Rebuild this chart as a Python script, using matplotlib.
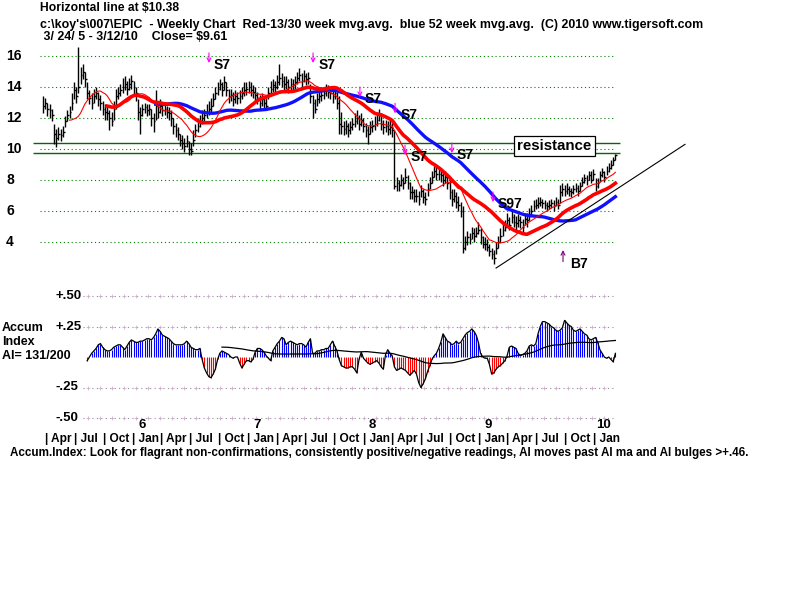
import matplotlib
matplotlib.use('Agg')
import matplotlib.pyplot as plt
import numpy as np
import pandas as pd

plt.rcParams['font.family'] = ['Liberation Sans', 'DejaVu Sans']
plt.rcParams['font.weight'] = 'bold'

# Weekly bars, one per week starting 3/25/05, last one 3/12/10.
start_date = pd.Timestamp('2005-03-25')

closes = [
    12.8, 13.0, 12.6, 12.5, 12.2, 11.0, 10.7, 11.0, 10.9, 11.1,
    11.8, 12.2, 12.4, 13.0, 13.8, 13.4, 14.0, 14.8, 15.0, 14.5, 13.6, 13.3,
    13.0, 13.4, 13.6, 13.2, 13.0, 12.6, 12.4, 12.3, 12.0, 11.8,
    12.6, 13.4, 13.6, 13.8, 14.0, 14.2, 13.9, 14.2, 14.4, 14.0, 13.6,
    12.4, 12.2, 12.6, 12.7, 12.5, 12.6, 12.0, 11.8, 12.8, 12.4,
    12.8, 12.5, 12.6, 12.4, 12.3, 12.0, 11.5, 11.2, 11.0,
    10.6, 10.4, 10.2, 10.5, 10.0, 9.9, 10.6, 11.2, 11.5, 11.8, 12.0, 12.2,
    12.4, 12.6, 12.8, 13.2, 13.6, 13.9, 14.2, 13.8, 14.3,
    13.8, 13.4, 13.5, 13.2, 13.4, 13.3, 13.4, 13.6, 13.8, 13.9, 14.0, 13.8,
    13.7, 13.5, 13.3, 13.0, 13.2, 13.0, 12.8, 13.6, 13.9, 14.1, 14.0, 14.3,
    14.6, 14.4, 14.2, 14.3, 14.0, 14.2, 14.1, 14.3, 14.6, 14.8, 14.4,
    14.7, 14.5, 14.6, 13.4, 13.0, 12.6, 13.2,
    13.4, 13.5, 13.6, 13.8, 13.7, 13.6, 13.4, 13.6, 13.0, 11.6,
    11.5, 11.3, 11.5, 11.2, 11.4, 11.6, 11.8, 12.0, 11.6, 11.9, 11.5,
    11.2, 11.0, 11.4, 11.5, 11.6, 11.9, 12.2, 11.6, 11.4, 11.5, 11.3,
    11.4, 11.2, 7.6, 7.8, 7.7, 8.0, 7.8, 8.2, 7.8, 7.2, 7.2, 7.0,
    7.0, 6.8, 7.3, 6.9, 6.8, 7.4, 7.8, 8.2, 8.6, 8.4, 8.4, 8.3, 8.0, 8.2,
    7.8, 7.2, 6.8, 7.0, 6.6, 6.4, 6.0, 3.6, 4.0, 4.3, 4.2, 4.6, 4.4,
    4.6, 4.8, 4.3, 3.9, 3.9, 3.7, 3.4, 3.2, 3.0, 3.6, 4.0, 4.4, 4.8,
    5.0, 5.4, 5.1, 5.6, 5.3, 5.2, 5.4, 5.3, 5.0, 5.5, 5.4, 5.8, 6.0, 6.3,
    6.4, 6.5, 6.6, 6.5, 6.4, 6.3, 6.4, 6.5, 6.3, 6.6, 6.4,
    7.2, 7.4, 7.3, 7.4, 7.3, 7.2, 7.4, 7.5, 7.3,
    7.6, 7.9, 8.1, 8.0, 8.3, 8.0, 8.4, 7.6, 7.8,
    8.3, 8.5, 8.2, 8.6, 8.8, 9.0, 9.3, 9.61,
]

highs = [
    13.4, 13.3, 13.0, 12.9, 12.6, 11.6, 11.3, 11.4, 11.3, 11.5,
    12.1, 12.5, 12.8, 13.6, 14.3, 14.0, 16.6, 15.3, 15.5, 15.0, 14.3, 13.8,
    13.6, 13.9, 14.0, 13.7, 13.5, 13.1, 12.9, 12.8, 12.5, 12.4,
    13.1, 13.9, 14.0, 14.2, 14.6, 14.7, 14.4, 14.6, 14.8, 14.4, 14.0,
    13.2, 12.7, 12.9, 13.0, 12.9, 12.9, 12.6, 12.3, 13.8, 12.9,
    13.2, 13.0, 13.0, 12.8, 12.7, 12.5, 12.0, 11.7, 11.4,
    11.0, 10.9, 10.7, 10.9, 10.5, 10.4, 11.2, 11.6, 12.0, 12.2, 12.5, 12.6,
    12.9, 13.1, 13.3, 13.6, 14.0, 14.3, 14.5, 14.3, 14.7,
    14.3, 13.9, 13.9, 13.7, 13.8, 13.7, 13.8, 14.0, 14.3, 14.3, 14.4, 14.3,
    14.1, 14.0, 13.7, 13.5, 13.6, 13.4, 13.3, 14.0, 14.4, 14.5, 14.4, 14.8,
    15.5, 14.9, 14.7, 14.7, 14.5, 14.6, 14.5, 14.7, 15.0, 15.2, 14.9,
    15.1, 14.9, 15.0, 14.2, 13.5, 13.2, 13.6,
    13.8, 13.9, 14.0, 14.2, 14.1, 14.0, 13.8, 14.0, 13.7, 13.4,
    12.4, 11.8, 11.9, 11.7, 11.8, 12.0, 12.3, 12.5, 12.2, 12.3, 12.0,
    11.7, 11.5, 11.8, 11.9, 12.1, 12.4, 12.6, 12.3, 11.9, 11.9, 11.8,
    11.9, 11.7, 11.2, 8.2, 8.0, 8.4, 8.2, 8.8, 8.3, 7.9, 7.6, 7.4,
    7.4, 7.3, 7.7, 7.4, 7.2, 7.8, 8.2, 8.6, 8.9, 8.9, 8.8, 8.7, 8.5, 8.6,
    8.4, 8.0, 7.4, 7.4, 7.2, 7.0, 6.6, 6.3, 4.4, 4.7, 4.6, 5.0, 4.9,
    5.0, 5.3, 4.9, 4.4, 4.3, 4.2, 3.9, 3.6, 3.5, 4.0, 4.4, 4.9, 5.2,
    5.4, 5.9, 5.6, 6.0, 5.8, 5.7, 5.8, 5.7, 5.5, 5.9, 5.9, 6.2, 6.4, 6.7,
    6.8, 6.9, 6.9, 6.8, 6.7, 6.6, 6.7, 6.8, 6.7, 6.9, 6.8,
    7.7, 7.8, 7.7, 7.8, 7.6, 7.5, 7.7, 7.8, 7.7,
    7.9, 8.2, 8.4, 8.3, 8.6, 8.6, 8.7, 8.1, 8.1,
    8.6, 8.8, 8.6, 8.9, 9.1, 9.3, 9.5, 9.7,
]

lows = [
    12.3, 12.6, 12.1, 12.0, 11.8, 10.3, 10.1, 10.6, 10.5, 10.8,
    11.4, 11.8, 12.0, 12.5, 13.2, 13.0, 13.6, 14.2, 14.5, 14.0, 13.2, 12.9,
    12.6, 13.0, 13.2, 12.8, 12.5, 12.2, 11.9, 11.9, 11.2, 11.5,
    11.9, 12.6, 13.2, 13.4, 13.6, 13.8, 13.5, 13.8, 13.9, 13.5, 13.1,
    11.9, 11.0, 12.1, 12.3, 12.1, 12.2, 11.5, 11.1, 11.9, 12.0,
    12.3, 12.1, 12.2, 12.0, 11.9, 11.5, 11.0, 10.8, 10.6,
    10.2, 10.0, 9.8, 10.1, 9.6, 9.6, 10.2, 10.8, 11.1, 11.4, 11.6, 11.8,
    12.0, 12.2, 12.4, 12.8, 13.2, 13.5, 13.8, 13.4, 13.8,
    13.4, 13.0, 13.1, 12.8, 13.0, 12.9, 13.0, 13.2, 13.4, 13.5, 13.6, 13.4,
    13.3, 13.1, 12.9, 12.6, 12.8, 12.6, 12.5, 13.2, 13.5, 13.7, 13.6, 13.9,
    14.1, 14.0, 13.8, 13.9, 13.6, 13.8, 13.7, 13.9, 14.2, 14.4, 14.0,
    14.3, 14.1, 14.2, 13.0, 12.0, 12.3, 12.8,
    13.0, 13.1, 13.2, 13.4, 13.3, 13.2, 13.0, 13.2, 12.6, 11.0,
    11.0, 10.9, 11.0, 10.8, 11.0, 11.2, 11.4, 11.6, 11.2, 11.5, 11.1,
    10.8, 10.3, 11.0, 11.1, 11.2, 11.5, 11.8, 11.2, 11.0, 11.1, 10.9,
    11.0, 10.8, 7.4, 7.3, 7.3, 7.6, 7.4, 7.8, 7.4, 6.8, 6.8, 6.6,
    6.6, 6.4, 6.9, 6.5, 6.4, 7.0, 7.4, 7.8, 8.2, 8.0, 8.0, 7.9, 7.6, 7.8,
    7.4, 6.8, 6.3, 6.6, 6.2, 6.0, 5.6, 3.3, 3.5, 3.8, 3.9, 4.2, 4.0,
    4.3, 4.5, 3.9, 3.6, 3.5, 3.4, 3.1, 2.9, 2.6, 3.2, 3.6, 4.0, 4.4,
    4.7, 5.0, 4.8, 5.2, 5.0, 4.8, 5.0, 4.9, 4.6, 5.1, 5.0, 5.4, 5.7, 6.0,
    6.1, 6.2, 6.3, 6.2, 6.1, 6.0, 6.1, 6.2, 6.0, 6.3, 6.1,
    6.5, 7.0, 7.0, 7.1, 7.0, 6.9, 7.1, 7.2, 7.0,
    7.3, 7.6, 7.8, 7.7, 8.0, 7.8, 8.0, 7.3, 7.5,
    7.9, 8.2, 7.9, 8.3, 8.5, 8.7, 9.0, 9.3,
]

# Accumulation index, starts at week 20.
ai_first_week = 20
accum_index = [
    -0.03, 0.00, 0.03, 0.05, 0.07, 0.10, 0.11, 0.08, 0.06, 0.05,
    0.05, 0.06, 0.08, 0.09, 0.10, 0.10, 0.08, 0.06, 0.09, 0.12,
    0.14, 0.13, 0.12, 0.12, 0.13, 0.13, 0.14, 0.15, 0.15, 0.14,
    0.16, 0.19, 0.23, 0.21, 0.18, 0.17, 0.16, 0.15, 0.13, 0.11,
    0.10, 0.10, 0.10, 0.10, 0.11, 0.13, 0.11, 0.08, 0.07, 0.06,
    0.06, 0.07, -0.02, -0.09, -0.13, -0.16, -0.17, -0.14, -0.10, -0.02,
    0.03, 0.05, 0.04, 0.03, 0.02, 0.00, -0.01, 0.00, 0.00, -0.05,
    -0.09, -0.06, -0.03, -0.03, -0.04, -0.02, 0.04, 0.07, 0.07, 0.06,
    0.04, 0.01, -0.01, -0.03, 0.05, 0.08, 0.11, 0.13, 0.16, 0.15,
    0.10, 0.12, 0.13, 0.12, 0.11, 0.10, 0.11, 0.11, 0.10, 0.08,
    0.12, 0.15, 0.03, 0.03, 0.05, 0.05, 0.06, 0.06, 0.07, 0.07,
    0.10, 0.13, 0.09, 0.05, -0.02, -0.07, -0.08, -0.09, -0.09, -0.08,
    -0.08, -0.10, -0.13, -0.02, 0.04, -0.01, -0.03, -0.05, -0.06, -0.05,
    -0.04, -0.03, -0.05, -0.08, -0.10, 0.02, 0.06, 0.03, 0.01, -0.08,
    -0.11, -0.10, -0.09, -0.10, -0.11, -0.13, -0.15, -0.13, -0.11, -0.14,
    -0.21, -0.25, -0.22, -0.18, -0.12, -0.07, -0.02, 0.01, 0.03, 0.07,
    0.12, 0.19, 0.16, 0.13, 0.12, 0.10, 0.11, 0.13, 0.11, 0.12,
    0.15, 0.18, 0.20, 0.21, 0.23, 0.21, 0.18, 0.12, 0.03, 0.00,
    -0.01, -0.01, -0.06, -0.14, -0.13, -0.10, -0.08, -0.07, -0.05, -0.03,
    0.01, 0.08, 0.09, 0.08, 0.07, 0.03, 0.01, 0.02, 0.03, 0.05,
    0.09, 0.10, 0.09, 0.11, 0.19, 0.25, 0.29, 0.29, 0.28, 0.27,
    0.25, 0.24, 0.22, 0.21, 0.22, 0.24, 0.30, 0.28, 0.26, 0.25,
    0.22, 0.21, 0.22, 0.23, 0.21, 0.19, 0.18, 0.15, 0.14, 0.15,
    0.16, 0.12, 0.06, 0.03, 0.00, -0.01, 0.00, -0.02, -0.04, 0.03,
]
ai_ma_first_week = 81

price_grid = [4, 6, 8, 10, 12, 14, 16]
horizontal_lines = [10.38, 9.73]
ai_grid = [0.50, 0.25, -0.25, -0.50]
ai_grid_labels = ['+.50', '+.25', '-.25', '-.50']

# Signals: week, price at arrow tip, label.
sig_weeks = [75.1, 122.2, 143.4, 159.3, 163.8, 185.0, 203.6, 235.3]
sig_prices = [15.55, 15.55, 13.35, 12.3, 9.6, 9.74, 6.58, 3.48]
sig_labels = ['S7', 'S7', 'S7', 'S7', 'S7', 'S7', 'S97', 'B7']

# Up trend line.
trend_weeks = [205, 290.5]
trend_prices = [2.32, 10.3]

# Pixel layout of the original screen.
PX0, PXW = 43, 2.21
W, H = 800, 600


def wk(x):
    return (x - PX0) / PXW


def price_at(y):
    return 4 + (242 - y) / 15.5


def ai_at(y):
    return (357 - y) / 122


def ftext(x, y, s, **kw):
    kw.setdefault('fontsize', 8)
    kw.setdefault('va', 'center')
    fig.text(x / W, 1 - y / H, s, fontweight='bold', **kw)


fig = plt.figure(figsize=(8, 6), dpi=100)
fig.patch.set_facecolor('white')

ax = fig.add_axes([0, 0, 1, 1])
ax.set_xlim(wk(0), wk(W))
ax.set_ylim(price_at(H), price_at(0))
ax.axis('off')

ax2 = fig.add_axes([0, 0, 1, 1])
ax2.set_xlim(wk(0), wk(W))
ax2.set_ylim(ai_at(H), ai_at(0))
ax2.axis('off')
ax2.patch.set_visible(False)

# Titles.
ftext(40, 8, 'Horizontal line at $10.38', fontsize=8.7)
ftext(40, 25, r"c:\koy's\007\EPIC  - Weekly Chart  Red-13/30 week mvg.avg.  blue 52 week mvg.avg.  (C) 2010 www.tigersoft.com",
      fontsize=8.9)
ftext(40, 37, ' 3/ 24/ 5 - 3/12/10    Close= $9.61', fontsize=8.9)

# Price grid & labels.
ax.hlines(price_grid, wk(40), wk(613), colors='#008000', linestyles=(0, (1, 2.5)), lw=0.8)
for p in price_grid:
    ax.text(wk(6), p, str(p), fontsize=10, fontweight='bold', va='center')
ax.hlines(horizontal_lines, wk(33), wk(620), colors='#006a00', lw=1.0)

# Weekly bars.
weeks = np.arange(len(closes))
ax.vlines(weeks, lows, highs, colors='black', lw=1.0)
ax.hlines(closes, weeks, weeks + 0.8, colors='black', lw=1.0)

# Moving averages.
s = pd.Series(closes)
ax.plot(weeks, s.rolling(52).mean(), color='#1010ff', lw=2.4)
ax.plot(weeks, s.rolling(30).mean(), color='#ff0000', lw=2.6)
ax.plot(weeks, s.rolling(13).mean(), color='#ff0000', lw=0.8)

# Trend line & resistance box.
ax.plot(trend_weeks, trend_prices, color='black', lw=0.8)
ax.text(wk(554.5), price_at(146), 'resistance', fontsize=10.8, fontweight='bold',
        ha='center', va='center',
        bbox=dict(boxstyle='square,pad=0.22', fc='white', ec='black', lw=0.9))

# Signals.
for w, p, lab in zip(sig_weeks, sig_prices, sig_labels):
    if lab.startswith('B'):
        ax.annotate('', xy=(w, p), xytext=(w, p - 0.75),
                    arrowprops=dict(arrowstyle='->', color='#800080', lw=0.8,
                                    shrinkA=0, shrinkB=0, mutation_scale=7))
        ax.text(w + 3.2, p - 0.9, lab, fontsize=10, fontweight='bold', va='center')
    else:
        ax.annotate('', xy=(w, p), xytext=(w, p + 0.65),
                    arrowprops=dict(arrowstyle='->', color='#ff00ff', lw=0.8,
                                    shrinkA=0, shrinkB=0, mutation_scale=7))
        ax.text(w + 2.3, p - 0.1, lab, fontsize=10, fontweight='bold', va='center')

# Accumulation index panel: dotted grid with small crosses.
ai = np.array(accum_index)
ai_weeks = np.arange(ai_first_week, ai_first_week + len(ai))
ax2.hlines(ai_grid, wk(83), wk(615), colors='#909090', linestyles=(0, (1, 3)), lw=0.8)
cross_x = wk(np.arange(88, 615, 12))
for v in ai_grid:
    ax2.plot(cross_x, np.full_like(cross_x, v), ls='none', marker='+', ms=3,
             mew=0.5, color='#c8aac8')
for v, lab in zip(ai_grid, ai_grid_labels):
    ax2.text(wk(55), v, lab, fontsize=9.5, fontweight='bold', va='center')
pos = ai >= 0
ax2.vlines(ai_weeks[pos], 0, ai[pos], colors='#0000ff', lw=0.8)
ax2.vlines(ai_weeks[~pos], 0, ai[~pos], colors='#ff0000', lw=0.8)
ax2.plot(ai_weeks, ai, color='black', lw=0.9)
ai_ma = pd.Series(ai, index=ai_weeks).rolling(52).mean()
ai_ma = ai_ma[ai_ma.index >= ai_ma_first_week]
ax2.plot(ai_ma.index, ai_ma.values, color='black', lw=0.9)

ftext(2, 328, 'Accum', fontsize=9)
ftext(2, 342, 'Index', fontsize=9)
ftext(2, 356, 'AI= 131/200', fontsize=9)

# Date axis.
for d in pd.date_range('2005-04-01', '2010-01-01', freq='QS'):
    w = (d - start_date).days / 7
    ax2.text(w, ai_at(439), '| ' + d.strftime('%b'), fontsize=8.6, fontweight='bold', va='center')
    if d.month == 1:
        ax2.text(w + 4.6, ai_at(425), str(d.year % 100), fontsize=9.5,
                 fontweight='bold', va='center', ha='center')

ftext(10, 453, 'Accum.Index: Look for flagrant non-confirmations, consistently positive/negative readings, '
               'AI moves past AI ma and AI bulges >+.46.', fontsize=8.4)

fig.savefig('out.png', dpi=100, facecolor='white')
